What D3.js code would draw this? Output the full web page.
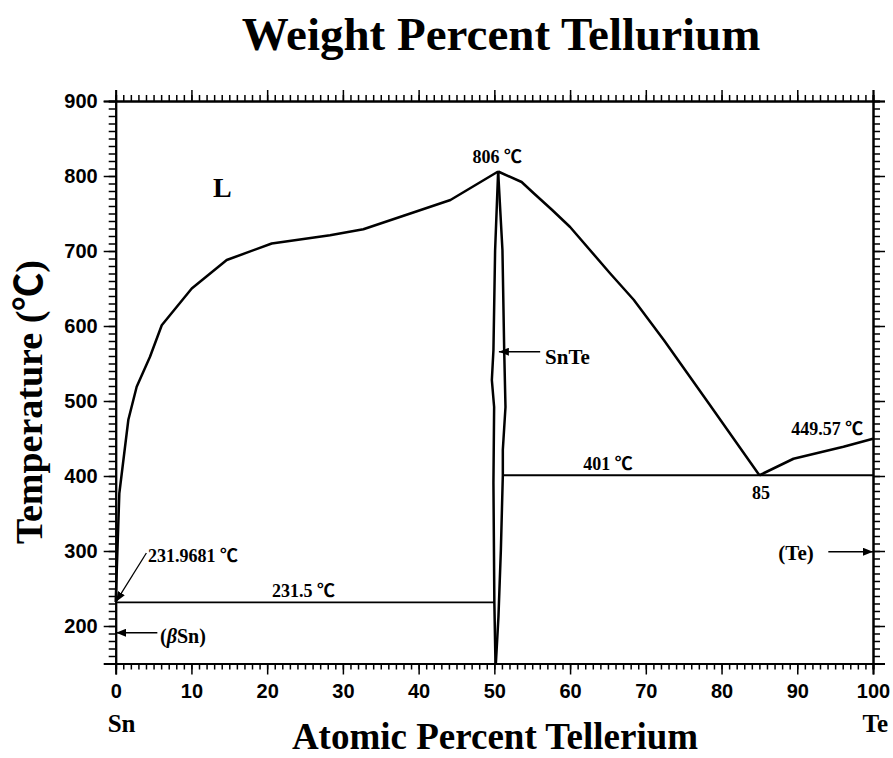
<!DOCTYPE html>
<html>
<head>
<meta charset="utf-8">
<script src="https://cdn.jsdelivr.net/npm/d3@7"></script>
<style>
  body { margin: 0; background: #fff; }
  .serif { font-family: "Liberation Serif", "Times New Roman", "Noto Sans CJK SC", serif; font-weight: bold; fill: #000; }
  .axis .tick text { font-family: "Liberation Sans", Arial, sans-serif; font-weight: bold; font-size: 20px; fill: #000; }
  .axis .domain { stroke: #000; stroke-width: 2; }
  .axis .tick line { stroke: #000; stroke-width: 1.5; }
  .phase { fill: none; stroke: #000; stroke-width: 2.5; stroke-linejoin: round; }
  .iso { fill: none; stroke: #000; stroke-width: 1.8; }
  .arrow { stroke: #000; stroke-width: 1.3; }
</style>
</head>
<body>
<script>
// tick values
var xMajor = [0, 10, 20, 30, 40, 50, 60, 70, 80, 90, 100];
var yMajor = [200, 300, 400, 500, 600, 700, 800, 900];
var xMinor = d3.range(0, 101, 1);
var yMinor = d3.range(150, 901, 10);

// liquidus, Sn side (at.% Te, degC)
var liqSn = [[0, 231.97], [0.48, 377], [1.67, 475], [2.77, 519], [4.53, 559], [6.08, 601],
  [10.04, 650], [14.66, 688], [20.6, 710], [28.3, 721], [32.7, 729], [38.9, 750],
  [44.2, 768], [50.5, 806]];
// liquidus, SnTe -> eutectic
var liqTe = [[50.5, 806], [53.6, 792], [55.2, 777], [57.6, 755], [60.0, 732], [65.3, 670],
  [68.4, 635], [72.4, 581], [78.3, 497], [85, 401]];
// liquidus, eutectic -> Te
var liqTe2 = [[85, 401], [89.5, 423], [96.1, 439], [100, 449.57]];
// SnTe solvus boundaries
var snteLeft = [[50.5, 806], [50.1, 701], [49.88, 568], [49.67, 528], [49.97, 492],
  [49.88, 391], [50.0, 231.5], [50.15, 150]];
var snteRight = [[50.5, 806], [51.07, 701], [51.3, 568], [51.47, 492], [51.12, 435],
  [51.12, 401], [50.86, 301], [50.54, 212], [50.2, 150]];
// invariant lines
var iso231 = [[0, 231.5], [50.0, 231.5]];
var iso401 = [[51.12, 401], [100, 401]];

var W = 893, H = 758;
var svg = d3.select("body").append("svg").attr("width", W).attr("height", H);

var defs = svg.append("defs");
defs.append("marker")
  .attr("id", "ah")
  .attr("viewBox", "0 0 10 8")
  .attr("refX", 10).attr("refY", 4)
  .attr("markerWidth", 10).attr("markerHeight", 8)
  .attr("markerUnits", "userSpaceOnUse")
  .attr("orient", "auto")
  .append("path").attr("d", "M0,0 L10,4 L0,8 Z").attr("fill", "#000");

var x = d3.scaleLinear().domain([0, 100]).range([115.7, 873]);
var y = d3.scaleLinear().domain([150, 900]).range([663.5, 101]);

//
// axes: minor first, then major with labels
//
function axisPair(gen, sel, tr, minorVals, majorVals, minorLen, majorLen, labels, pad) {
  svg.append("g").attr("class", "axis").attr("transform", tr)
    .call(gen(sel).tickValues(minorVals).tickSize(minorLen).tickFormat(""));
  svg.append("g").attr("class", "axis").attr("transform", tr)
    .call(gen(sel).tickValues(majorVals).tickSize(majorLen).tickPadding(pad)
      .tickFormat(labels ? d3.format("d") : ""));
}
axisPair(d3.axisBottom, x, "translate(0," + y(150) + ")", xMinor, xMajor, 6, 11, true, 9);
axisPair(d3.axisTop, x, "translate(0," + y(900) + ")", xMinor, xMajor, 6, 11, false, 3);
axisPair(d3.axisLeft, y, "translate(" + x(0) + ",0)", yMinor, yMajor, 7, 12, true, 6);
axisPair(d3.axisRight, y, "translate(" + x(100) + ",0)", yMinor, yMajor, 7, 12, false, 3);

//
// phase boundaries
//
var line = d3.line().x(function(d) { return x(d[0]); }).y(function(d) { return y(d[1]); });
var g = svg.append("g");
[liqSn, liqTe, liqTe2, snteLeft, snteRight].forEach(function(s) {
  g.append("path").attr("class", "phase").attr("d", line(s));
});
[iso231, iso401].forEach(function(s) {
  g.append("path").attr("class", "iso").attr("d", line(s));
});

//
// labels
//
function label(txt, xv, tv, size, anchor) {
  return svg.append("text").attr("class", "serif")
    .attr("x", x(xv)).attr("y", y(tv))
    .attr("font-size", size)
    .attr("text-anchor", anchor || "start")
    .text(txt);
}
function arrow(x1, t1, x2, t2) {
  svg.append("line").attr("class", "arrow")
    .attr("x1", x(x1)).attr("y1", y(t1))
    .attr("x2", x(x2)).attr("y2", y(t2))
    .attr("marker-end", "url(#ah)");
}

label("L", 14.07, 772, 28, "middle");
label("806 \u2103", 47.1, 817.3, 18);
label("SnTe", 56.7, 550, 21);
arrow(56.05, 565.7, 50.6, 565.7);
label("231.9681 \u2103", 4.26, 285.3, 18);
arrow(4.05, 297.3, 0.05, 232.5);
label("231.5 \u2103", 20.65, 238.7, 18);
var bs = label("(", 5.85, 177.3, 20);
bs.append("tspan").attr("font-style", "italic").text("\u03b2");
bs.append("tspan").text("Sn)");
arrow(5.5, 191, 0.05, 191);
label("401 \u2103", 61.75, 408, 18);
label("85", 85.2, 369.3, 18, "middle");
label("449.57 \u2103", 89.2, 454.7, 18);
label("(Te)", 87.5, 288, 21);
arrow(94.1, 299, 100, 299);

// end-member labels
svg.append("text").attr("class", "serif").attr("font-size", 25)
  .attr("x", x(0) - 8).attr("y", 732).text("Sn");
svg.append("text").attr("class", "serif").attr("font-size", 25)
  .attr("x", x(100) + 15).attr("y", 732).attr("text-anchor", "end").text("Te");

// titles
svg.append("text").attr("class", "serif").attr("font-size", 47)
  .attr("x", 501).attr("y", 50).attr("text-anchor", "middle")
  .text("Weight Percent Tellurium");
svg.append("text").attr("class", "serif").attr("font-size", 37)
  .attr("x", 495).attr("y", 749).attr("text-anchor", "middle")
  .text("Atomic Percent Tellerium");
svg.append("text").attr("class", "serif").attr("font-size", 38)
  .attr("transform", "translate(42," + 402 + ")rotate(-90)")
  .attr("text-anchor", "middle")
  .text("Temperature (\u2103)");
</script>
</body>
</html>
